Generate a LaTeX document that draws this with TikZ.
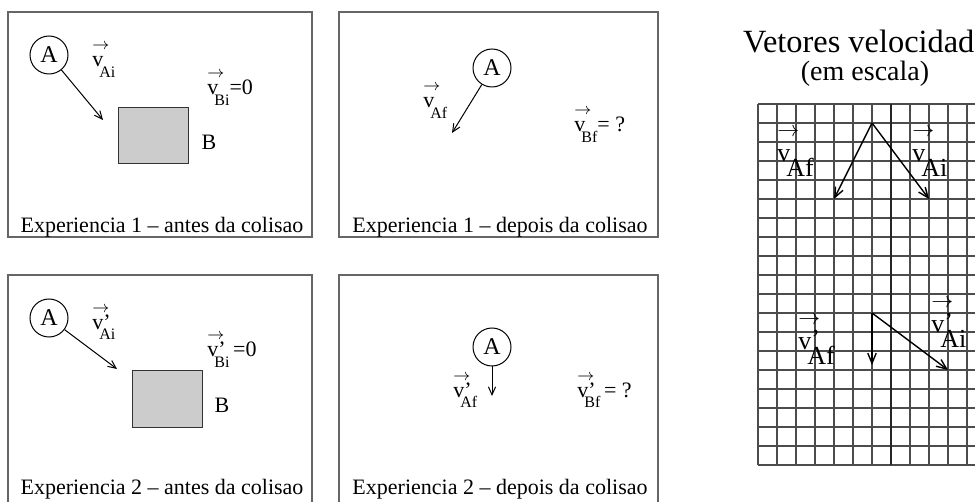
\documentclass[tikz,border=0pt]{standalone}
\usepackage{fontspec}
\setmainfont{Liberation Serif}
\usetikzlibrary{arrows.meta}
\newcommand{\vlab}[2]{\rlap{\raisebox{8.5pt}{\fontsize{8.5}{8.5}\selectfont$\rightarrow$}}v\rlap{#1}\kern-2pt\raisebox{-5.5pt}{\fontsize{8}{8}\selectfont #2}}
\newcommand{\vbig}[2]{\rlap{\raisebox{12.5pt}{\fontsize{11}{11}\selectfont$\rightarrow$}}v\rlap{\raisebox{1pt}{#1}}\kern-2pt\raisebox{-7.5pt}{#2}}
\tikzset{
  panelframe/.style={draw=black!60, line width=0.75pt},
  ballA/.style={circle, draw, line width=0.5pt, minimum size=19pt, inner sep=0pt, font=\fontsize{12}{12}\selectfont},
  blockB/.style={draw=black!80, fill=black!20, line width=0.5pt, minimum width=35pt, minimum height=28pt, inner sep=0pt},
  velarrow/.style={line width=0.5pt, -{Straight Barb[length=4pt,width=3.6pt]}},
  gridarrow/.style={line width=0.7pt, -{Straight Barb[length=5pt,width=4.2pt]}},
  vlabel/.style={anchor=base west, inner sep=0pt, font=\fontsize{11}{13}\selectfont},
  glabel/.style={anchor=base west, inner sep=0pt, font=\fontsize{13}{15}\selectfont},
  captiontext/.style={anchor=base, inner sep=0pt, font=\fontsize{11}{13}\selectfont},
  gridline/.style={draw=black!70, line width=0.7pt},
  gridaxis/.style={draw=black!85, line width=1pt},
}
\begin{document}
\begin{tikzpicture}[x=0.5pt,y=-0.5pt]
			%%%%% START %%%%%
			\useasboundingbox (0,0) rectangle (975,502);
			\clip (0,0) rectangle (975,502);
			
			% experiencia 1 - antes
			\draw[panelframe] (8,12) rectangle (312,237);
			\node[ballA] (A1) at (49,55) {A};
			\coordinate (tA1) at (103,120);
			\draw[velarrow] (A1) -- (tA1);
			\node[vlabel] (vAi1) at (92,67) {\vlab{}{Ai}};
			\node[blockB] (B1) at (153,136) {};
			\node (lB1) at (209,142) {\fontsize{11}{13}\selectfont B};
			\node[vlabel] (vBi1) at (207,95) {\vlab{}{Bi}=0};
			\node[captiontext] (cap1) at (162,233) {Experiencia 1 -- antes da colisao};
			
			% experiencia 1 - depois
			\draw[panelframe] (339,12) rectangle (658,237);
			\node[ballA] (A2) at (492,68) {A};
			\coordinate (tA2) at (452,133);
			\draw[velarrow] (A2) -- (tA2);
			\node[vlabel] (vAf2) at (423,108) {\vlab{}{Af}};
			\node[vlabel] (vBf2) at (574,132) {\vlab{}{Bf}= ?};
			\node[captiontext] (cap2) at (500,233) {Experiencia 1 -- depois da colisao};
			
			% experiencia 2 - antes
			\draw[panelframe] (8,275) rectangle (312,520);
			\node[ballA] (A3) at (49,318) {A};
			\coordinate (tA3) at (117,369);
			\draw[velarrow] (A3) -- (tA3);
			\node[vlabel] (vAi3) at (92,329) {\vlab{'}{Ai}};
			\node[blockB] (B3) at (167,399) {};
			\node (lB3) at (222,405) {\fontsize{11}{13}\selectfont B};
			\node[vlabel] (vBi3) at (207,357) {\vlab{'}{Bi}\,=0};
			\node[captiontext] (cap3) at (162,494) {Experiencia 2 -- antes da colisao};
			
			% experiencia 2 - depois
			\draw[panelframe] (339,275) rectangle (658,520);
			\node[ballA] (A4) at (492,347) {A};
			\coordinate (tA4) at (492,396);
			\draw[velarrow] (A4) -- (tA4);
			\node[vlabel] (vAf4) at (453,397) {\vlab{'}{Af}};
			\node[vlabel] (vBf4) at (577,397) {\vlab{'}{Bf}\,= ?};
			\node[captiontext] (cap4) at (500,494) {Experiencia 2 -- depois da colisao};
			
			% vetores em escala
			\node[anchor=base, inner sep=0pt, font=\fontsize{16.2}{18}\selectfont] (title) at (866,53) {Vetores velocidade};
			\node[anchor=base, inner sep=0pt, font=\fontsize{14}{16}\selectfont] (subtitle) at (865,81) {(em escala)};
			
			\foreach \gx in {0,...,14}
				\draw[gridline] ({758+19*\gx},104) -- ({758+19*\gx},465);
			\foreach \gy in {0,...,19}
				\draw[gridline] (758,{104+19*\gy}) -- (1024,{104+19*\gy});
			\draw[gridaxis] (891,104) -- (891,465);
			
			\coordinate (O1) at (872,123);
			\coordinate (gAf) at (834,199);
			\coordinate (gAi) at (929,199);
			\draw[gridarrow] (O1) -- (gAf);
			\draw[gridarrow] (O1) -- (gAi);
			\node[glabel] (lgAf) at (777,162) {\vbig{}{Af}};
			\node[glabel] (lgAi) at (912,162) {\vbig{}{Ai}};
			
			\coordinate (O2) at (872,313);
			\coordinate (gAf2) at (872,365);
			\coordinate (gAi2) at (948,370);
			\draw[gridarrow] (O2) -- (gAf2);
			\draw[gridarrow] (O2) -- (gAi2);
			\node[glabel] (lgAf2) at (798,350) {\vbig{'}{Af}};
			\node[glabel] (lgAi2) at (931,333) {\vbig{'}{Ai}};
			%%%%% END %%%%%
\end{tikzpicture}
\end{document}
